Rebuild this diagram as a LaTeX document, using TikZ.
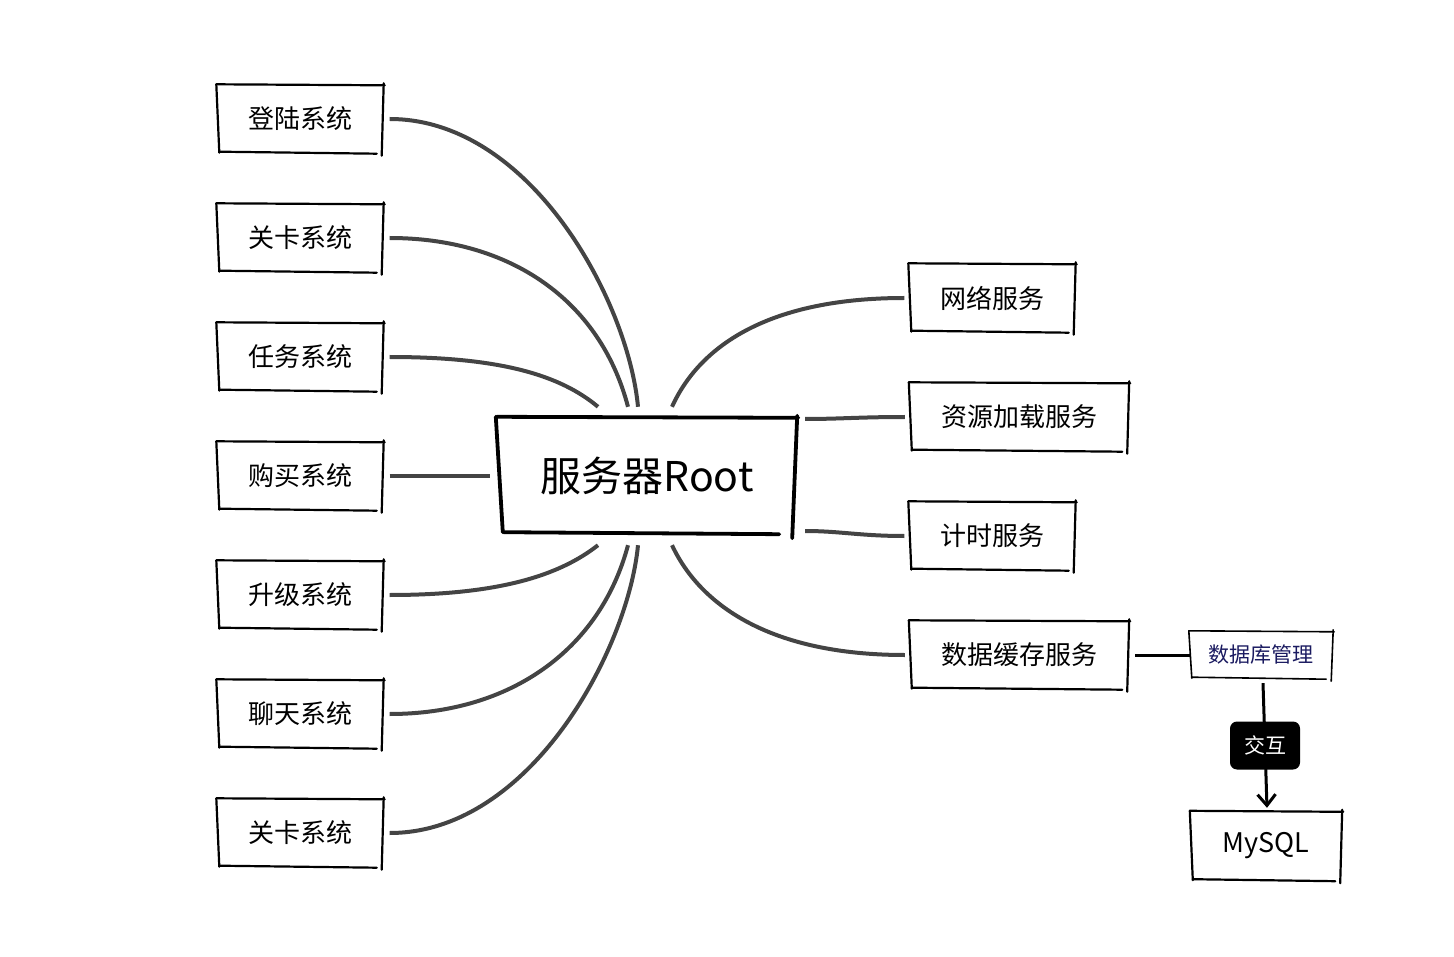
\documentclass[tikz,border=0pt]{standalone}
\usepackage{fontspec}
\setmainfont{Noto Sans CJK SC}
\usetikzlibrary{arrows.meta}
\definecolor{conn}{HTML}{444444}
\definecolor{navytext}{HTML}{1A1A60}
\newcommand{\skbox}[2]{%
  \draw[line width=#2,line cap=round] ([shift={(-1,-1)}]#1.north west) -- ([shift={(2,0)}]#1.north east);
  \draw[line width=#2,line cap=round] ([shift={(1,-2)}]#1.north east) -- ([shift={(-1,3)}]#1.south east);
  \draw[line width=#2,line cap=round] ([shift={(-6,1)}]#1.south east) -- ([shift={(2,-1)}]#1.south west);
  \draw[line width=#2,line cap=round] ([shift={(2,0)}]#1.south west) -- ([shift={(-1,-1)}]#1.north west);
}
\tikzset{
  box/.style={draw=none,minimum height=67pt,inner sep=0pt,font=\fontsize{26}{31}\selectfont},
  lbox/.style={box,minimum width=165pt},
  wbox/.style={box,minimum width=218pt},
  conline/.style={draw=conn,line width=4pt},
}
\begin{document}
\begin{tikzpicture}[x=1pt,y=-1pt]
\useasboundingbox (0,0) rectangle (1454,957);
% root
\node[draw=none,minimum width=298pt,minimum height=118pt,inner sep=0pt,font=\fontsize{41}{49}\selectfont] (root) at (647,476) {服务器Root};
\draw[line width=3.8pt,line cap=round] ([shift={(-1,0)}]root.north west) -- ([shift={(2,1)}]root.north east);
\draw[line width=3.8pt,line cap=round] ([shift={(1,-1)}]root.north east) -- ([shift={(-4,3)}]root.south east);
\draw[line width=3.8pt,line cap=round] ([shift={(-17,-1)}]root.south east) -- ([shift={(6,-3)}]root.south west);
\draw[line width=3.8pt,line cap=round] ([shift={(5,-3)}]root.south west) -- ([shift={(-2,0)}]root.north west);
% left
\node[lbox] (l1) at (300,119) {登陆系统};
\node[lbox] (l2) at (300,238) {关卡系统};
\node[lbox] (l3) at (300,357) {任务系统};
\node[lbox] (l4) at (300,476) {购买系统};
\node[lbox] (l5) at (300,595) {升级系统};
\node[lbox] (l6) at (300,714) {聊天系统};
\node[lbox] (l7) at (300,833) {关卡系统};
\foreach \n in {l1,l2,l3,l4,l5,l6,l7} {\skbox{\n}{2.2pt}}
% right
\node[lbox] (r1) at (992,298) {网络服务};
\node[wbox] (r2) at (1019,417) {资源加载服务};
\node[lbox] (r3) at (992,536) {计时服务};
\node[wbox] (r4) at (1019,655) {数据缓存服务};
\foreach \n in {r1,r2,r3,r4} {\skbox{\n}{2.2pt}}
\node[draw=none,minimum width=142pt,minimum height=46pt,inner sep=0pt,text=navytext,font=\fontsize{21}{25}\selectfont] (db) at (1261,655) {数据库管理};
\skbox{db}{1.6pt}
\node[draw=none,minimum width=150pt,minimum height=68pt,inner sep=0pt,font=\fontsize{27}{32}\selectfont] (mysql) at (1266,846) {MySQL};
\skbox{mysql}{2.2pt}
% left connectors
\draw[conline] ([xshift=7pt]l1.east) .. controls (530,119) and (628,300) .. ([shift={(-9,-10)}]root.north);
\draw[conline] ([xshift=7pt]l2.east) .. controls (510,238) and (600,300) .. ([shift={(-19,-10)}]root.north);
\draw[conline] ([xshift=7pt]l3.east) .. controls (500,357) and (560,375) .. ([shift={(-49,-10)}]root.north);
\draw[conline] ([xshift=7pt]l4.east) -- ([xshift=-8pt]root.west);
\draw[conline] ([xshift=7pt]l5.east) .. controls (500,595) and (560,575) .. ([shift={(-49,10)}]root.south);
\draw[conline] ([xshift=7pt]l6.east) .. controls (510,714) and (600,650) .. ([shift={(-19,10)}]root.south);
\draw[conline] ([xshift=7pt]l7.east) .. controls (530,833) and (628,650) .. ([shift={(-9,10)}]root.south);
% right connectors
\draw[conline] ([xshift=-5pt]r1.west) .. controls (770,298) and (700,345) .. ([shift={(25,-10)}]root.north);
\draw[conline] ([xshift=-5pt]r2.west) .. controls (860,417) and (840,419) .. ([shift={(158,-57)}]root.center);
\draw[conline] ([xshift=-5pt]r3.west) .. controls (860,536) and (840,531) .. ([shift={(158,55)}]root.center);
\draw[conline] ([xshift=-5pt]r4.west) .. controls (770,655) and (700,605) .. ([shift={(25,10)}]root.south);
% database
\draw[line width=3pt] ([xshift=7pt]r4.east) -- (db.west);
\draw[line width=3pt,-{Straight Barb[length=11pt,width=18pt,line width=3pt]}] ([shift={(2,5)}]db.south) -- node[fill=black,text=white,rounded corners=7pt,minimum width=70pt,minimum height=48pt,inner sep=0pt,font=\fontsize{21}{25}\selectfont] (jh) {交互} ([shift={(1,-4)}]mysql.north);
\end{tikzpicture}
\end{document}
